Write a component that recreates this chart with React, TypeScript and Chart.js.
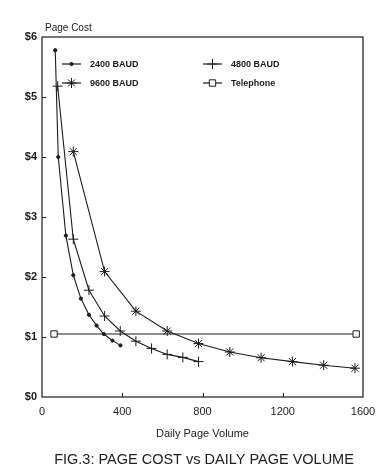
import React, { useEffect, useRef } from "react";
import { Chart, registerables } from "chart.js";
import { drawPoint } from "chart.js/helpers";

Chart.register(...registerables);

// ---- data ----
const xTickValues = [0, 400, 800, 1200, 1600];
const yTickValues = [0, 1, 2, 3, 4, 5, 6];

const baud2400X = [66, 81, 119, 156, 194, 234, 272, 308, 351, 391];
const baud2400Y = [5.78, 4.0, 2.69, 2.03, 1.64, 1.37, 1.19, 1.05, 0.94, 0.86];

const baud4800X = [78, 156, 234, 312, 390, 468, 546, 624, 702, 780];
const baud4800Y = [5.18, 2.63, 1.78, 1.35, 1.1, 0.93, 0.81, 0.71, 0.66, 0.59];

const baud9600X = [156, 312, 468, 624, 780, 936, 1092, 1248, 1404, 1560];
const baud9600Y = [4.09, 2.09, 1.43, 1.1, 0.89, 0.75, 0.655, 0.59, 0.53, 0.48];

const telephoneX = [60, 1566];
const telephoneY = [1.05, 1.05];

const seriesLabels = ["2400 BAUD", "4800 BAUD", "9600 BAUD", "Telephone"];

const INK = "#1c1c1c";
const FAMILY = "'Liberation Sans', Arial, sans-serif";

const toPts = (xs: number[], ys: number[]) => xs.map((x, i) => ({ x, y: ys[i] }));

const pointStyles: any[] = [
  { pointStyle: "circle", radius: 1.6, fill: INK },
  { pointStyle: "cross", radius: 5, fill: INK },
  { pointStyle: "star", radius: 5, fill: INK },
  { pointStyle: "rect", radius: 4.5, fill: "#ffffff" },
];

const decorPlugin = {
  id: "decor",
  afterDraw(chart: any) {
    const { ctx, chartArea } = chart;
    const { left, right, top, bottom } = chartArea;
    const xs = chart.scales.x;
    const ys = chart.scales.y;
    ctx.save();
    // frame
    ctx.strokeStyle = INK;
    ctx.lineWidth = 1.2;
    ctx.strokeRect(left, top, right - left, bottom - top);
    // inward ticks
    ctx.lineWidth = 1;
    ctx.beginPath();
    for (const v of xTickValues.slice(1, -1)) {
      const px = Math.round(xs.getPixelForValue(v)) + 0.5;
      ctx.moveTo(px, bottom);
      ctx.lineTo(px, bottom - 4);
    }
    for (const v of yTickValues.slice(1, -1)) {
      const py = Math.round(ys.getPixelForValue(v)) + 0.5;
      ctx.moveTo(left, py);
      ctx.lineTo(left + 4, py);
    }
    ctx.stroke();

    // y axis caption
    ctx.fillStyle = INK;
    ctx.font = `10px ${FAMILY}`;
    ctx.textAlign = "left";
    ctx.textBaseline = "middle";
    ctx.fillText("Page Cost", 45, 28);

    // legend
    const cols = [62, 203];
    const rows = [64, 83];
    const order = [0, 1, 2, 3];
    order.forEach((di, k) => {
      const cx = cols[k % 2];
      const cy = rows[Math.floor(k / 2)];
      ctx.strokeStyle = INK;
      ctx.lineWidth = 1.2;
      ctx.beginPath();
      ctx.moveTo(cx, cy);
      ctx.lineTo(cx + 19, cy);
      ctx.stroke();
      const ps = pointStyles[di];
      ctx.fillStyle = ps.fill;
      ctx.strokeStyle = INK;
      ctx.lineWidth = 1;
      drawPoint(ctx, { pointStyle: ps.pointStyle, radius: ps.radius, rotation: 0, borderWidth: 1 } as any, cx + 9.5, cy);
      ctx.fillStyle = INK;
      ctx.font = `bold 9px ${FAMILY}`;
      ctx.textAlign = "left";
      ctx.textBaseline = "middle";
      ctx.fillText(seriesLabels[di], cx + 28, cy + 0.5);
    });

    // figure caption
    ctx.fillStyle = "#222";
    ctx.font = `14.5px ${FAMILY}`;
    ctx.textAlign = "center";
    ctx.textBaseline = "middle";
    ctx.fillText("FIG.3: PAGE COST vs DAILY PAGE VOLUME", 204, 460);
    ctx.restore();
  },
};

export default function App() {
  const ref = useRef<HTMLCanvasElement>(null);
  useEffect(() => {
    document.body.style.margin = "0";
    const canvas = ref.current!;
    const mk = (i: number, xs: number[], ys: number[]) => {
      const ps = pointStyles[i];
      return {
        label: seriesLabels[i],
        data: toPts(xs, ys),
        borderColor: INK,
        borderWidth: 1.1,
        pointStyle: ps.pointStyle,
        pointRadius: ps.radius,
        pointBackgroundColor: ps.fill,
        pointBorderColor: INK,
        pointBorderWidth: 1,
        tension: 0,
        fill: false,
      };
    };
    const chart = new Chart(canvas, {
      type: "line",
      data: {
        datasets: [
          mk(0, baud2400X, baud2400Y),
          mk(1, baud4800X, baud4800Y),
          mk(2, baud9600X, baud9600Y),
          mk(3, telephoneX, telephoneY),
        ] as any,
      },
      options: {
        responsive: false,
        animation: false,
        devicePixelRatio: 1,
        layout: { padding: { top: 37, right: 23, left: 0, bottom: 0 } },
        plugins: { legend: { display: false }, tooltip: { enabled: false }, title: { display: false } },
        scales: {
          x: {
            type: "linear",
            min: 0,
            max: 1600,
            afterFit: (s: any) => {
              s.height = 77;
            },
            afterBuildTicks: (s: any) => {
              s.ticks = xTickValues.map((v) => ({ value: v }));
            },
            ticks: {
              padding: 8,
              color: INK,
              maxRotation: 0,
              autoSkip: false,
              font: { family: FAMILY, size: 11 },
              callback: (v: any) => String(v),
            },
            grid: { display: false, drawTicks: false },
            border: { display: false },
            title: {
              display: true,
              text: "Daily Page Volume",
              color: INK,
              padding: { top: 0, bottom: 33 },
              font: { family: FAMILY, size: 11 },
            },
          },
          y: {
            type: "linear",
            min: 0,
            max: 6,
            afterFit: (s: any) => {
              s.width = 42;
            },
            afterBuildTicks: (s: any) => {
              s.ticks = yTickValues.map((v) => ({ value: v }));
            },
            ticks: {
              padding: 5,
              color: INK,
              font: { family: FAMILY, size: 11, weight: "bold" },
              callback: (v: any) => "$" + v,
            },
            grid: { display: false, drawTicks: false },
            border: { display: false },
          },
        },
      } as any,
      plugins: [decorPlugin],
    });
    return () => chart.destroy();
  }, []);
  return <canvas ref={ref} width={386} height={474} style={{ display: "block", width: 386, height: 474 }} />;
}
